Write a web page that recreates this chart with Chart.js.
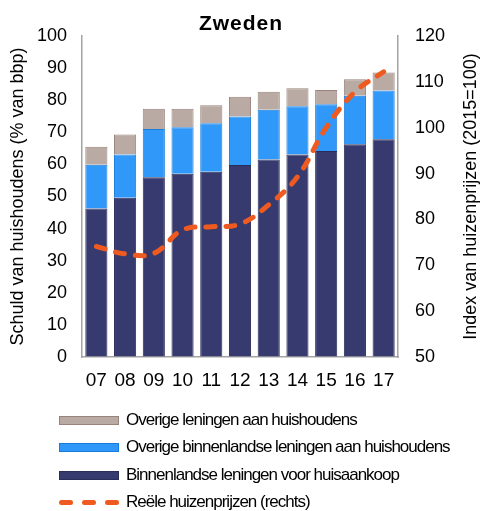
<!DOCTYPE html>
<html>
<head>
<meta charset="utf-8">
<script src="https://cdn.jsdelivr.net/npm/chart.js@4/dist/chart.umd.min.js"></script>
<style>
  html, body { margin: 0; padding: 0; background: #fff; }
  #wrap { position: relative; width: 481px; height: 511px; overflow: hidden; }
  #box { position: absolute; left: 0; top: 0; width: 481px; height: 400px; }
  #legend { position: absolute; left: 0; top: 0; width: 481px; height: 511px; pointer-events: none; }
  .item { position: absolute; left: 59px; height: 20px; display: flex; align-items: center;
          font-family: "Liberation Sans", Arial, sans-serif; font-size: 17px; letter-spacing: -1px; color: #000; white-space: nowrap; }
  .swatch { width: 60px; height: 9px; box-sizing: border-box; border: 1px solid; margin-right: 7px; }
  .dash { width: 60px; height: 5px; margin-right: 7px; position: relative; }
  .dash span { position: absolute; top: 0; height: 5px; width: 14px; border-radius: 3px; }
</style>
</head>
<body>
<div id="wrap">
  <div id="box"><canvas id="c"></canvas></div>
  <div id="legend"></div>
</div>
<script>
// Years (2007-2017)
const years = ['07', '08', '09', '10', '11', '12', '13', '14', '15', '16', '17'];

// Household debt, % of GDP (stacked components)
const housingLoans = [46.3, 49.6, 56.0, 57.1, 57.7, 59.8, 61.5, 63.1, 64.2, 66.3, 67.8];
const otherDomesticLoans = [13.6, 13.5, 15.0, 14.5, 15.1, 15.1, 15.5, 15.0, 14.5, 15.1, 15.2];
const otherLoans = [5.6, 6.2, 6.3, 5.7, 5.6, 6.2, 5.6, 5.6, 4.5, 5.1, 5.6];

// Real house prices, index 2015=100 (right axis)
const housePrices = [74.1, 72.5, 72.6, 77.7, 78.4, 79.0, 83.2, 89.3, 100.0, 107.8, 112.2];

const leftTicks = [0, 100, 10];
const rightTicks = [50, 120, 10];

const fontFamily = '"Liberation Sans", Arial, sans-serif';
const labelFont = { family: fontFamily, size: 18 };
const axisColor = '#a3a3a3';
const rightTitle = 'Index van huizenprijzen (2015=100)';

// Chart title and the right-hand axis title (read bottom to top)
const textPlugin = {
  id: 'chartTexts',
  afterDraw(chart) {
    const ctx = chart.ctx;
    const area = chart.chartArea;
    ctx.save();
    ctx.font = 'bold 21px ' + fontFamily;
    ctx.letterSpacing = '1px';
    ctx.fillStyle = '#000';
    ctx.textAlign = 'center';
    ctx.textBaseline = 'middle';
    ctx.fillText('Zweden', 241, 24);
    ctx.restore();

    ctx.save();
    ctx.font = '18px ' + fontFamily;
    ctx.fillStyle = '#000';
    ctx.textAlign = 'center';
    ctx.textBaseline = 'middle';
    ctx.translate(chart.width - 10, (area.top + area.bottom) / 2);
    ctx.rotate(-Math.PI / 2);
    ctx.fillText(rightTitle, 0, 0);
    ctx.restore();
  }
};

const chart = new Chart(document.getElementById('c'), {
  type: 'bar',
  data: {
    labels: years,
    datasets: [
      {
        label: 'Binnenlandse leningen voor huisaankoop',
        data: housingLoans,
        backgroundColor: '#363a6e',
        borderColor: '#2a2d58',
        borderWidth: 1,
        yAxisID: 'y',
        stack: 'debt',
        order: 1
      },
      {
        label: 'Overige binnenlandse leningen aan huishoudens',
        data: otherDomesticLoans,
        backgroundColor: '#2f98f8',
        borderColor: '#1a7cda',
        borderWidth: 1,
        yAxisID: 'y',
        stack: 'debt',
        order: 1
      },
      {
        label: 'Overige leningen aan huishoudens',
        data: otherLoans,
        backgroundColor: '#b9aba4',
        borderColor: '#98837a',
        borderWidth: 1,
        yAxisID: 'y',
        stack: 'debt',
        order: 1
      },
      {
        type: 'line',
        label: 'Reële huizenprijzen (rechts)',
        data: housePrices,
        borderColor: '#ee5a1f',
        borderWidth: 5,
        borderDash: [9, 11],
        borderCapStyle: 'round',
        tension: 0.4,
        pointRadius: 0,
        fill: false,
        yAxisID: 'y1',
        stack: 'prices',
        order: 0
      }
    ]
  },
  options: {
    responsive: true,
    maintainAspectRatio: false,
    animation: false,
    layout: { padding: { top: 36, left: 0, right: 0, bottom: 0 } },
    datasets: { bar: { categoryPercentage: 1, barPercentage: 0.77 } },
    plugins: { legend: { display: false }, tooltip: { enabled: false }, title: { display: false } },
    scales: {
      x: {
        stacked: true,
        grid: { display: true, drawOnChartArea: false, drawTicks: false },
        border: { display: true, color: axisColor, width: 1.5 },
        ticks: { color: '#000', font: { ...labelFont, size: 19 }, padding: 12, maxRotation: 0 },
        afterFit(s) { s.height = 43; }
      },
      y: {
        position: 'left',
        stacked: true,
        min: leftTicks[0], max: leftTicks[1],
        grid: { display: true, drawOnChartArea: false, drawTicks: false },
        border: { display: true, color: axisColor, width: 1.5 },
        ticks: { stepSize: leftTicks[2], color: '#000', font: labelFont, padding: 15 },
        title: { display: true, text: 'Schuld van huishoudens (% van bbp)', color: '#000', font: labelFont, padding: { top: 7, bottom: 0 } },
        afterFit(s) { s.width = 82; }
      },
      y1: {
        position: 'right',
        stacked: false,
        min: rightTicks[0], max: rightTicks[1],
        grid: { display: true, drawOnChartArea: false, drawTicks: false },
        border: { display: true, color: axisColor, width: 1.5 },
        ticks: { stepSize: rightTicks[2], color: '#000', font: labelFont, padding: 17 },
        title: { display: false },
        afterFit(s) { s.width = 83; }
      }
    }
  },
  plugins: [textPlugin]
});

// Legend built from the chart's datasets, listed top of stack first
(function buildLegend() {
  const legend = document.getElementById('legend');
  const ds = chart.data.datasets;
  const orderIdx = [2, 1, 0, 3];
  const rowCenters = [420, 447, 475, 502];
  orderIdx.forEach((i, r) => {
    const d = ds[i];
    const item = document.createElement('div');
    item.className = 'item';
    item.style.top = (rowCenters[r] - 10) + 'px';
    if (d.type === 'line') {
      const dash = document.createElement('div');
      dash.className = 'dash';
      [0, 23, 46].forEach(x => {
        const s = document.createElement('span');
        s.style.left = x + 'px';
        s.style.background = d.borderColor;
        dash.appendChild(s);
      });
      item.appendChild(dash);
    } else {
      const sw = document.createElement('div');
      sw.className = 'swatch';
      sw.style.background = d.backgroundColor;
      sw.style.borderColor = d.borderColor;
      item.appendChild(sw);
    }
    const t = document.createElement('span');
    t.textContent = d.label;
    item.appendChild(t);
    legend.appendChild(item);
  });
})();
</script>
</body>
</html>
